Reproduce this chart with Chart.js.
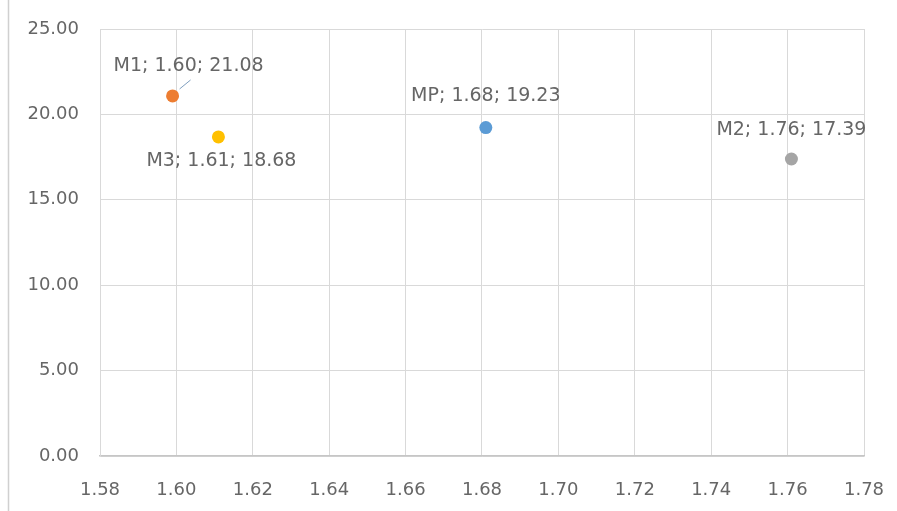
<!DOCTYPE html>
<html>
<head>
<meta charset="utf-8">
<script src="https://cdn.jsdelivr.net/npm/chart.js@4/dist/chart.umd.min.js"></script>
<style>
html,body{margin:0;padding:0;background:#fff;}
#wrap{position:relative;width:897px;height:511px;}
</style>
</head>
<body>
<div id="wrap"><canvas id="c" width="897" height="511"></canvas></div>
<script>
// Data
const seriesNames = ["MP", "M1", "M2", "M3"];
const xValues = [1.681, 1.599, 1.761, 1.611];
const yValues = [19.23, 21.08, 17.39, 18.68];
const xTicks = [1.58, 1.60, 1.62, 1.64, 1.66, 1.68, 1.70, 1.72, 1.74, 1.76, 1.78];
const yTicks = [0, 5, 10, 15, 20, 25];

// Styles
const colors = ["#5B9BD5", "#ED7D31", "#A5A5A5", "#FFC000"];
const labelOffsets = [[0, -31], [16, -30], [0, -29], [3, 24]];
const FONT = "'DejaVu Sans', sans-serif";

const datasets = seriesNames.map((n, i) => ({
  label: n,
  data: [{x: xValues[i], y: yValues[i]}],
  backgroundColor: colors[i],
  borderColor: colors[i],
  pointRadius: 6.5,
  pointHoverRadius: 6.5,
  borderWidth: 0
}));

const labelPlugin = {
  id: 'labels',
  afterDatasetsDraw(chart) {
    const ctx = chart.ctx;
    ctx.save();
    ctx.font = "19px " + FONT;
    ctx.fillStyle = "#666666";
    ctx.textAlign = "center";
    ctx.textBaseline = "middle";
    chart.data.datasets.forEach((ds, i) => {
      const el = chart.getDatasetMeta(i).data[0];
      const [dx, dy] = labelOffsets[i];
      const txt = ds.label + "; " + xValues[i].toFixed(2) + "; " + yValues[i].toFixed(2);
      ctx.fillText(txt, el.x + dx, el.y + dy);
      if (i === 1) {
        ctx.strokeStyle = "#7f9fbf";
        ctx.lineWidth = 1;
        ctx.beginPath();
        ctx.moveTo(el.x + 7, el.y - 7);
        ctx.lineTo(el.x + 18, el.y - 16);
        ctx.stroke();
      }
    });
    ctx.restore();
  },
  beforeDraw(chart) {
    const ctx = chart.ctx;
    ctx.save();
    ctx.fillStyle = "#fff";
    ctx.fillRect(0, 0, chart.width, chart.height);
    ctx.strokeStyle = "#d0d0d0";
    ctx.lineWidth = 1.5;
    ctx.beginPath();
    ctx.moveTo(8.5, 0);
    ctx.lineTo(8.5, chart.height);
    ctx.stroke();
    ctx.restore();
  }
};

new Chart(document.getElementById('c'), {
  type: 'scatter',
  data: {datasets},
  options: {
    responsive: false,
    animation: false,
    layout: {padding: {left: 0, right: 33, top: 29, bottom: 10}},
    plugins: {legend: {display: false}, tooltip: {enabled: false}},
    scales: {
      x: {
        type: 'linear',
        min: 1.58, max: 1.78,
        afterBuildTicks(scale) { scale.ticks = xTicks.map(v => ({value: v})); },
        afterFit(scale) { scale.height = 45; scale.paddingLeft = 0; scale.paddingRight = 0; },
        grid: {color: "#d9d9d9", lineWidth: 1, drawTicks: false},
        border: {color: "#c6c6c6", width: 1.5},
        ticks: {
          padding: 24,
          color: "#666666",
          font: {family: FONT, size: 18},
          callback: v => Number(v).toFixed(2)
        }
      },
      y: {
        type: 'linear',
        min: 0, max: 25,
        afterBuildTicks(scale) { scale.ticks = yTicks.map(v => ({value: v})); },
        afterFit(scale) { scale.width = 100; scale.paddingTop = 0; scale.paddingBottom = 0; },
        grid: {color: "#d9d9d9", lineWidth: 1, drawTicks: false},
        border: {color: "#d9d9d9"},
        ticks: {
          padding: 21,
          color: "#666666",
          font: {family: FONT, size: 18},
          callback: v => Number(v).toFixed(2)
        }
      }
    }
  },
  plugins: [labelPlugin]
});
</script>
</body>
</html>
